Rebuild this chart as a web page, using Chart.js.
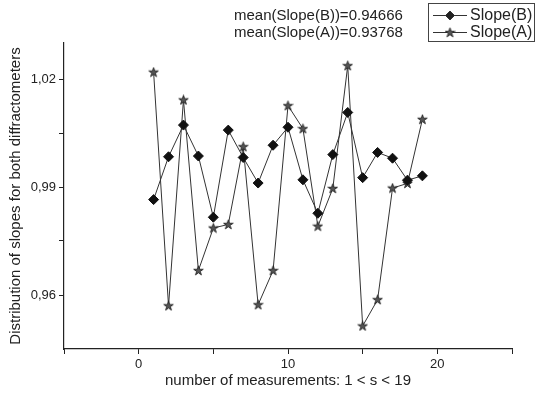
<!DOCTYPE html>
<html>
<head>
<meta charset="utf-8">
<script src="https://cdn.jsdelivr.net/npm/chart.js@4/dist/chart.umd.min.js"></script>
<style>
  html,body{margin:0;padding:0;background:#fff}
  #wrap{width:538px;height:394px}
</style>
</head>
<body>
<div id="wrap"><canvas id="c" width="538" height="394"></canvas></div>
<script>
const measurements = [1,2,3,4,5,6,7,8,9,10,11,12,13,14,15,16,17,18,19]
const slopeB = [0.9865,0.9984,1.0072,0.9986,0.9816,1.0058,0.9982,0.9911,1.0016,1.0066,0.9920,0.9827,0.9990,1.0107,0.9926,0.9996,0.9980,0.9919,0.9931]
const slopeA = [1.0219,0.9570,1.0142,0.9668,0.9786,0.9796,1.0012,0.9573,0.9668,1.0126,1.0062,0.9791,0.9896,1.0237,0.9514,0.9587,0.9897,0.9910,1.0088]
const yTicks = [0.96,0.975,0.99,1.005,1.02]
const yLabels = [0.96,0.99,1.02]
const xLabels = [0,10,20]
const meanText = ["mean(Slope(B))=0.94666","mean(Slope(A))=0.93768"]
const seriesNames = ["Slope(B)","Slope(A)"]

const FONT = "'Liberation Sans', Arial, sans-serif"
const INK = "#222"

// small 5 point star used as marker
function makeStar(){
  const c = document.createElement("canvas")
  c.width = 11; c.height = 11
  const g = c.getContext("2d")
  g.beginPath()
  for(let i=0;i<10;i++){
    const r = i%2 ? 1.9 : 5
    const a = -Math.PI/2 + i*Math.PI/5
    const px = 5.5 + r*Math.cos(a), py = 5.8 + r*Math.sin(a)
    i ? g.lineTo(px,py) : g.moveTo(px,py)
  }
  g.closePath()
  g.fillStyle = "#555"
  g.fill()
  g.strokeStyle = "#222"
  g.lineWidth = 0.9
  g.stroke()
  return c
}
const star = makeStar()

const extras = {
  id:"extras",
  afterDraw(chart){
    const ctx = chart.ctx
    ctx.save()
    ctx.font = "15px " + FONT
    ctx.fillStyle = INK
    ctx.textBaseline = "middle"
    ctx.textAlign = "left"
    ctx.fillText(meanText[0],234,16)
    ctx.fillText(meanText[1],234,33)

    // legend box
    ctx.strokeStyle = "#444"
    ctx.lineWidth = 1
    ctx.strokeRect(428.5,3.5,106,38)
    const rows = [15,32]
    rows.forEach((y,i)=>{
      ctx.beginPath()
      ctx.moveTo(433,y+0.5); ctx.lineTo(467,y+0.5)
      ctx.strokeStyle = "#333"
      ctx.stroke()
      if(i===0){
        Chart.helpers.drawPoint(ctx,{pointStyle:"rectRot",radius:4.5,borderWidth:1},450,y+0.5)
      }else{
        ctx.drawImage(star,450-5.5,y-5)
      }
      ctx.fillStyle = INK
      ctx.font = "16px " + FONT
      ctx.fillText(seriesNames[i],470,y+1)
    })
    ctx.restore()
  }
}

new Chart(document.getElementById("c"),{
  type:"line",
  data:{
    datasets:[
      {
        label:seriesNames[0],
        data:measurements.map((m,i)=>({x:m,y:slopeB[i]})),
        borderColor:"#333",
        borderWidth:1,
        pointStyle:"rectRot",
        pointRadius:5,
        pointBackgroundColor:"#111",
        pointBorderColor:"#111",
        pointBorderWidth:1,
        tension:0
      },
      {
        label:seriesNames[1],
        data:measurements.map((m,i)=>({x:m,y:slopeA[i]})),
        borderColor:"#333",
        borderWidth:1,
        pointStyle:star,
        pointRadius:5,
        tension:0
      }
    ]
  },
  options:{
    responsive:false,
    animation:false,
    layout:{padding:{left:0,right:26,top:43,bottom:0}},
    plugins:{legend:{display:false},tooltip:{enabled:false}},
    scales:{
      x:{
        type:"linear",
        min:-5,max:25,
        border:{color:"#222",width:1.2},
        grid:{drawOnChartArea:false,tickLength:5,color:"#222"},
        ticks:{
          stepSize:5,
          color:INK,
          font:{family:FONT,size:13},
          padding:3,
          maxRotation:0,
          callback:v=>xLabels.includes(v) ? String(v) : ""
        },
        title:{display:true,text:"number of measurements: 1 < s < 19",color:INK,font:{family:FONT,size:15},padding:{top:3}},
        afterFit(s){ s.height = 45 }
      },
      y:{
        min:0.945,max:1.03,
        border:{color:"#222",width:1.2},
        grid:{drawOnChartArea:false,tickLength:5,color:"#222"},
        afterBuildTicks(s){ s.ticks = yTicks.map(v=>({value:v})) },
        ticks:{
          color:INK,
          font:{family:FONT,size:13},
          padding:3,
          callback:v=>yLabels.some(l=>Math.abs(l-v)<1e-6) ? v.toFixed(2).replace(".",",") : ""
        },
        title:{display:true,text:"Distribution of slopes for both diffractometers",color:INK,font:{family:FONT,size:15},padding:{top:7,bottom:0}},
        afterFit(s){ s.width = 64 }
      }
    }
  },
  plugins:[extras]
})
</script>
</body>
</html>
